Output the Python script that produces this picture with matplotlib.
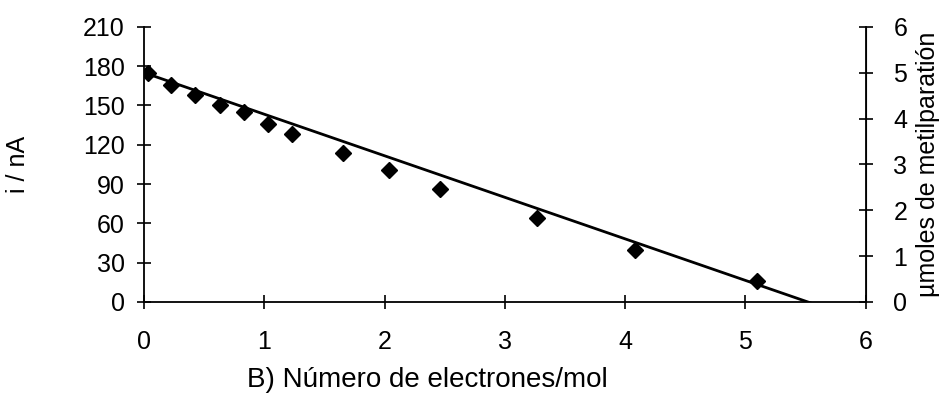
import matplotlib.pyplot as plt

plt.rcParams['font.family'] = ['Liberation Sans', 'DejaVu Sans']

electrons = [0.03, 0.22, 0.42, 0.63, 0.83, 1.03, 1.23, 1.65, 2.04, 2.46, 3.27, 4.08, 5.1]
current = [175, 166, 158, 150, 145, 136, 128, 114, 101, 86, 64, 40, 16]

fit_x = [0.0, 5.55]
fit_y = [175, -1]

fig = plt.figure(figsize=(9.42, 4.01), dpi=100)
ax = fig.add_axes([0.153, 0.247, 0.766, 0.686])

ax.plot(fit_x, fit_y, color='black', linewidth=2.0, zorder=2)
ax.plot(electrons, current, 'D', color='black', markersize=8, zorder=3)

ax.set_xlim(0, 6)
ax.set_ylim(0, 210)
ax.set_xticks(range(0, 7))
ax.set_yticks(range(0, 211, 30))
ax.spines['top'].set_visible(False)
for s in ('left', 'bottom'):
    ax.spines[s].set_linewidth(1.3)
ax.tick_params(direction='inout', length=10, width=1.2, labelsize=18)
ax.tick_params(axis='x', pad=15)
ax.tick_params(axis='y', pad=9)
ax.set_ylabel('i / nA', fontsize=18, labelpad=38)
ax.set_xlabel('B) Número de electrones/mol', fontsize=20)
ax.xaxis.set_label_coords(0.392, -0.285)
ax.xaxis.label.set_va('center')

ax2 = ax.twinx()
ax2.set_ylim(0, 6)
ax2.set_yticks(range(0, 7))
ax2.spines['top'].set_visible(False)
ax2.spines['left'].set_visible(False)
ax2.spines['bottom'].set_visible(False)
ax2.spines['right'].set_linewidth(1.3)
ax2.tick_params(direction='inout', length=10, width=1.2, labelsize=18, pad=15)
ax2.set_ylabel('µmoles de metilparatión', fontsize=18, labelpad=6)

fig.savefig('out.png', dpi=100)
